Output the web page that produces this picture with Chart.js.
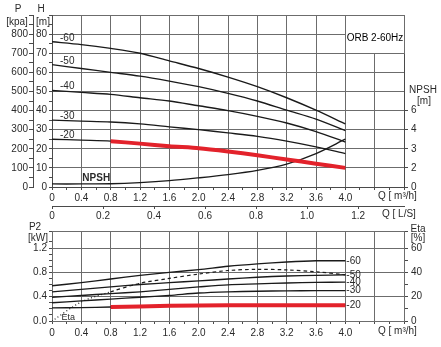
<!DOCTYPE html>
<html>
<head>
<meta charset="utf-8">
<title>ORB 2-60Hz</title>
<script src="https://cdn.jsdelivr.net/npm/chart.js@4.4.1/dist/chart.umd.min.js"></script>
<style>
  html,body{margin:0;padding:0;background:#fff;}
  #wrap{position:relative;width:441px;height:347px;overflow:hidden;}
  #wrap canvas{position:absolute;left:0;}
  #cTop{top:0;}
  #cBot{top:222px;}
</style>
</head>
<body>
<div id="wrap">
  <canvas id="cTop" width="441" height="222"></canvas>
  <canvas id="cBot" width="441" height="125"></canvas>
</div>
<script>
/* data */
const FLOW       = [0, 0.4, 0.8, 1.2, 1.6, 2.0, 2.4, 2.8, 3.2, 3.6, 4.0];   // Q [m3/h]
const SPEEDS     = ['-60', '-50', '-40', '-30', '-20'];
const HEAD_60    = [76, 74.5, 72.5, 70, 66, 62, 57.5, 52.5, 46.7, 40.2, 33];  // H [m]
const HEAD_50    = [64, 62, 60, 58, 55.4, 52.5, 49, 45, 40.2, 35.5, 29.5];
const HEAD_40    = [50.5, 49.5, 48.5, 46.7, 45, 42.5, 40, 37, 33.5, 29, 23.5];
const HEAD_30    = [35, 34.5, 34, 33, 31.5, 30, 28.3, 26.5, 24, 21, 17.5];
const HEAD_20    = [25, 24.5, 24, 22.7, 21.3, 20.3, 18.6, 16.6, 14.4, 12.2, 10];
const NPSH       = [0.16, 0.16, 0.17, 0.23, 0.33, 0.48, 0.65, 0.87, 1.2, 1.75, 2.5]; // right axis steps
const NPSH_TICKS = ['0', '2', '3', '4', '6'];
const P2_60      = [0.58, 0.63, 0.69, 0.75, 0.80, 0.845, 0.9, 0.94, 0.97, 0.99, 0.99]; // P2 [kW]
const P2_50      = [0.48, 0.52, 0.56, 0.6, 0.63, 0.66, 0.69, 0.72, 0.74, 0.75, 0.76];
const P2_40      = [0.39, 0.42, 0.45, 0.48, 0.52, 0.56, 0.595, 0.61, 0.625, 0.635, 0.64];
const P2_30      = [0.30, 0.33, 0.36, 0.39, 0.42, 0.46, 0.48, 0.49, 0.495, 0.5, 0.5];
const P2_20      = [0.215, 0.22, 0.23, 0.24, 0.25, 0.255, 0.26, 0.26, 0.26, 0.26, 0.26];
const ETA        = [0, 15.7, 24, 31, 35, 38.6, 41.5, 42.5, 42, 40.5, 38];   // Eta [%]
const DUTY_FROM  = 0.8;   // red duty curve starts here
const MODEL      = 'ORB 2-60Hz';

const FONT = "'Liberation Sans', Arial, sans-serif";
const GRID = '#6c6c6c', INK = '#1a1a1a', TXT = '#2a2a2a', AX = '#4a4a4a', RED = '#e3222b';

const HEADS = [HEAD_60, HEAD_50, HEAD_40, HEAD_30, HEAD_20];
const POWERS = [P2_60, P2_50, P2_40, P2_30, P2_20];

function pts(ys, from=0){ return FLOW.map((q,i)=>({x:q,y:ys[i]})).filter(p=>p.x>=from-1e-9); }
function curve(data, extra){
  return Object.assign({data, borderColor:INK, borderWidth:1.35, pointRadius:0, tension:0.3, fill:false, order:1}, extra||{});
}
const fixW = w => s => { s.width = w; };
const fixH = h => s => { s.height = h; };
const tick10 = {size:10, family:FONT};
const on = (v, step) => Math.abs(v/step - Math.round(v/step)) < 1e-6;

function put(ctx, s, x, y, o){
  o = o || {};
  ctx.save();
  ctx.font = (o.bold?'bold ':'') + (o.size||10) + 'px ' + FONT;
  ctx.fillStyle = o.color || TXT;
  ctx.textAlign = o.align || 'center';
  ctx.textBaseline = o.base || 'middle';
  ctx.fillText(s, x, y);
  ctx.restore();
}
const al = p => Math.round(p - 0.5) + 0.5;

function flowAxis(h, pad){
  return {
    type:'linear', position:'bottom', weight:0, min:0, max:4.8, afterFit:fixH(h),
    ticks:{stepSize:0.2, autoSkip:false, maxRotation:0, padding:pad, color:TXT, font:tick10,
      callback:v=>{ const k=Math.round(v*10); return (k%4===0 && k<=40) ? (k===0?'0':v.toFixed(1)) : ''; }},
    grid:{color:c=>Math.round(c.tick.value*10)%4===0?GRID:'transparent', tickLength:3, tickColor:AX},
    border:{color:AX}
  };
}

/* ---------- top panel: H / NPSH ---------- */
const topDecor = {
  id:'topDecor',
  beforeDatasetsDraw(ch){
    const {ctx} = ch, x = ch.scales.x, y = ch.scales.y;
    const l = al(x.getPixelForValue(4.0)), r = al(x.getPixelForValue(4.8));
    const t = al(y.getPixelForValue(90)), b = al(y.getPixelForValue(70));
    ctx.save();
    ctx.fillStyle = '#fff'; ctx.fillRect(l, t, r-l, b-t);
    ctx.strokeStyle = GRID; ctx.lineWidth = 1; ctx.strokeRect(l, t, r-l, b-t);
    ctx.restore();
    put(ctx, MODEL, (l+r)/2, y.getPixelForValue(80)+4, {color:'#000', size:10});
  },
  afterDraw(ch){
    const {ctx} = ch, x = ch.scales.x, y = ch.scales.y, a = ch.chartArea;
    put(ctx, 'P', 18, 9);      put(ctx, '[kpa]', 17, 22);
    put(ctx, 'H', 41, 9);      put(ctx, '[m]', 43, 22);
    put(ctx, 'NPSH', 423, 90); put(ctx, '[m]', 424, 101);
    put(ctx, 'Q [ m³/h]', a.right-26, x.bottom-10, {align:'left'});
    put(ctx, 'Q [ L/S]', a.right-22, ch.scales.xls.top+8, {align:'left'});
    put(ctx, 'NPSH', x.getPixelForValue(0.4)+1, y.getPixelForValue(4.5), {bold:true, align:'left'});
    SPEEDS.forEach((s,i)=>put(ctx, s, a.left+8, y.getPixelForValue(HEADS[i][0])-1, {align:'left', base:'alphabetic'}));
  }
};

new Chart(document.getElementById('cTop'), {
  type:'line',
  data:{datasets:[
    curve(pts(HEAD_20, DUTY_FROM), {borderColor:RED, borderWidth:4, tension:0.2, order:0}),
    ...HEADS.map(h=>curve(pts(h))),
    curve(pts(NPSH), {yAxisID:'npsh'})
  ]},
  options:{
    responsive:false, animation:false, devicePixelRatio:1,
    layout:{padding:{top:15}},
    plugins:{legend:{display:false}, tooltip:{enabled:false}},
    scales:{
      x: flowAxis(19, 2),
      xls:{type:'linear', position:'bottom', weight:1, min:0, max:1.38, afterFit:fixH(16),
        ticks:{stepSize:0.2, includeBounds:false, autoSkip:false, maxRotation:0, padding:1, color:TXT, font:tick10,
          callback:v=>v===0?'0':v.toFixed(1)},
        grid:{drawOnChartArea:false, tickLength:3, tickColor:AX}, border:{color:AX}},
      y:{type:'linear', position:'left', weight:0, min:0, max:90, afterFit:fixW(19),
        ticks:{stepSize:5, autoSkip:false, padding:2, color:TXT, font:tick10,
          callback:v=>(on(v,10) && v<=80) ? String(v) : ''},
        grid:{color:c=>on(c.tick.value,10)?GRID:'transparent', tickLength:3, tickColor:AX}, border:{color:AX}},
      p:{type:'linear', position:'left', weight:1, min:0, max:900, afterFit:fixW(33),
        ticks:{stepSize:50, autoSkip:false, padding:1, color:TXT, font:tick10,
          callback:v=>(on(v,100) && v<=800) ? String(v) : ''},
        grid:{drawOnChartArea:false, tickLength:4, tickColor:AX}, border:{color:AX}},
      npsh:{type:'linear', position:'right', min:0, max:9, afterFit:fixW(37),
        ticks:{stepSize:1, autoSkip:false, padding:3, color:TXT, font:tick10,
          callback:v=>NPSH_TICKS[v] !== undefined ? NPSH_TICKS[v] : ''},
        grid:{drawOnChartArea:false, tickLength:4, tickColor:c=>c.tick.value<NPSH_TICKS.length?AX:'transparent'},
        border:{color:AX}}
    }
  },
  plugins:[topDecor]
});

/* ---------- bottom panel: P2 / Eta ---------- */
const botDecor = {
  id:'botDecor',
  beforeDatasetsDraw(ch){
    const {ctx} = ch, a = ch.chartArea;
    ctx.save(); ctx.strokeStyle = GRID; ctx.lineWidth = 1;
    ctx.strokeRect(al(a.left), al(a.top), al(a.right)-al(a.left), al(a.bottom)-al(a.top));
    ctx.restore();
  },
  afterDraw(ch){
    const {ctx} = ch, x = ch.scales.x, y = ch.scales.y, a = ch.chartArea;
    put(ctx, 'P2', 35, 5);   put(ctx, '[kW]', 38, 16);
    put(ctx, 'Eta', 418, 7); put(ctx, '[%]', 418, 16);
    put(ctx, 'Q [ m³/h]', a.right-26, x.bottom-16, {align:'left'});
    put(ctx, 'Eta', x.getPixelForValue(0.13), a.bottom-3, {align:'left', size:9});
    const xe = x.getPixelForValue(FLOW[FLOW.length-1]) + 1;
    SPEEDS.forEach((s,i)=>put(ctx, s, xe, y.getPixelForValue(POWERS[i][POWERS[i].length-1]), {align:'left'}));
  }
};

new Chart(document.getElementById('cBot'), {
  type:'line',
  data:{datasets:[
    curve(pts(P2_20, DUTY_FROM), {borderColor:RED, borderWidth:4, tension:0, order:0}),
    ...POWERS.map(p=>curve(pts(p))),
    curve(pts(ETA), {yAxisID:'eta', borderWidth:1.2, borderDash:[3.5,3],
      segment:{borderDash:c=>c.p0.parsed.x < 0.8 ? [1,2.5] : [3.5,3]}})
  ]},
  options:{
    responsive:false, animation:false, devicePixelRatio:1,
    layout:{padding:{top:8}},
    plugins:{legend:{display:false}, tooltip:{enabled:false}},
    scales:{
      x: flowAxis(26, 3),
      y:{type:'linear', position:'left', min:0, max:1.48, afterFit:fixW(52),
        ticks:{stepSize:0.1, autoSkip:false, padding:2, color:TXT, font:tick10,
          callback:v=>(on(v,0.4) && v<=1.2+1e-6) ? v.toFixed(1) : ''},
        grid:{color:c=>on(c.tick.value,0.4)?GRID:'transparent', tickLength:3, tickColor:AX}, border:{color:AX}},
      eta:{type:'linear', position:'right', min:0, max:74, afterFit:fixW(37),
        ticks:{stepSize:10, autoSkip:false, padding:3, color:TXT, font:tick10,
          callback:v=>(on(v,20) && v<=60) ? String(v) : ''},
        grid:{drawOnChartArea:false, tickLength:4, tickColor:AX}, border:{color:AX}}
    }
  },
  plugins:[botDecor]
});
</script>
</body>
</html>
